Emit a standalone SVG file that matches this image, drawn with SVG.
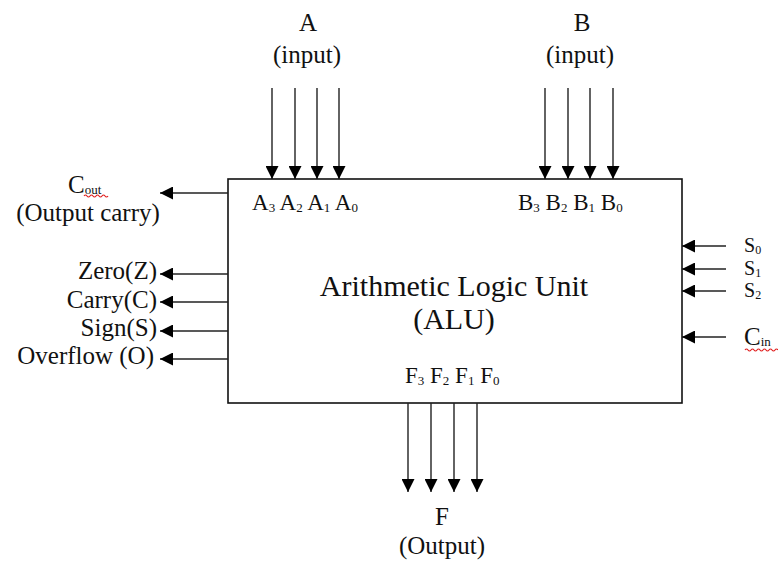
<svg xmlns="http://www.w3.org/2000/svg" width="778" height="563" viewBox="0 0 778 563">
<defs>
<marker id="ah" markerUnits="userSpaceOnUse" markerWidth="13" markerHeight="13" refX="13" refY="6.5" orient="auto">
<path d="M0,0 L13,6.5 L0,13 z" fill="#000"/>
</marker>
<style>
text{font-family:"Liberation Serif","Times New Roman",serif;fill:#111}
.lbl{font-size:25px}
.pin{font-size:23px}
.sub{font-size:13px}
.ssub{font-size:12px}
.sel{font-size:20px}
.title{font-size:30px}
.conn line{stroke:#222;stroke-width:1.4;marker-end:url(#ah)}
.sq{fill:none;stroke:#e02020;stroke-width:1.2}
</style>
</defs>
<rect width="778" height="563" fill="#fff"/>

<g id="alu">
<rect x="228" y="179" width="454" height="224" fill="#fff" stroke="#111" stroke-width="1.6"/>
<text class="title" x="454" y="296" text-anchor="middle">Arithmetic Logic Unit</text>
<text class="title" x="454" y="329" text-anchor="middle">(ALU)</text>
<text class="pin" x="252" y="210">A<tspan class="sub" dy="2">3</tspan><tspan dy="-2"> A</tspan><tspan class="sub" dy="2">2</tspan><tspan dy="-2"> A</tspan><tspan class="sub" dy="2">1</tspan><tspan dy="-2"> A</tspan><tspan class="sub" dy="2">0</tspan></text>
<text class="pin" x="518" y="210">B<tspan class="sub" dy="2">3</tspan><tspan dy="-2"> B</tspan><tspan class="sub" dy="2">2</tspan><tspan dy="-2"> B</tspan><tspan class="sub" dy="2">1</tspan><tspan dy="-2"> B</tspan><tspan class="sub" dy="2">0</tspan></text>
<text class="pin" x="405" y="383">F<tspan class="sub" dy="2">3</tspan><tspan dy="-2"> F</tspan><tspan class="sub" dy="2">2</tspan><tspan dy="-2"> F</tspan><tspan class="sub" dy="2">1</tspan><tspan dy="-2"> F</tspan><tspan class="sub" dy="2">0</tspan></text>
</g>

<g id="input-a">
<text class="lbl" x="308" y="31" text-anchor="middle">A</text>
<text class="lbl" x="307" y="63" text-anchor="middle">(input)</text>
</g>
<g id="input-b">
<text class="lbl" x="582" y="31" text-anchor="middle">B</text>
<text class="lbl" x="580" y="63" text-anchor="middle">(input)</text>
</g>
<g id="output-f">
<text class="lbl" x="442" y="525" text-anchor="middle">F</text>
<text class="lbl" x="442" y="554" text-anchor="middle">(Output)</text>
</g>
<g id="cout">
<text class="lbl" x="68" y="193">C<tspan class="sub" dy="1">out</tspan></text>
<path class="sq" d="M84,196 q1.5,-2 3,0 t3,0 t3,0 t3,0 t3,0 t3,0 t3,0 t3,0"/>
<text class="lbl" x="88" y="221" text-anchor="middle">(Output carry)</text>
</g>
<g id="flags">
<text class="lbl" x="157" y="279" text-anchor="end">Zero(Z)</text>
<text class="lbl" x="157" y="308" text-anchor="end">Carry(C)</text>
<text class="lbl" x="157" y="336" text-anchor="end">Sign(S)</text>
<text class="lbl" x="154" y="364" text-anchor="end">Overflow (O)</text>
</g>
<g id="select">
<text class="sel" x="744" y="252">S<tspan class="ssub" dy="2">0</tspan></text>
<text class="sel" x="744" y="275">S<tspan class="ssub" dy="2">1</tspan></text>
<text class="sel" x="744" y="297">S<tspan class="ssub" dy="2">2</tspan></text>
</g>
<g id="cin">
<text class="lbl" x="744" y="345">C<tspan class="sub" dy="1">in</tspan></text>
<path class="sq" d="M745,350 q1.5,-2 3,0 t3,0 t3,0 t3,0 t3,0 t3,0 t3,0 t3,0 t3,0 t3,0 t3,0"/>
</g>

<g id="connectors" class="conn">
<line x1="272" y1="88" x2="272" y2="179"/>
<line x1="295" y1="88" x2="295" y2="179"/>
<line x1="317" y1="88" x2="317" y2="179"/>
<line x1="339" y1="88" x2="339" y2="179"/>
<line x1="545" y1="88" x2="545" y2="179"/>
<line x1="568" y1="88" x2="568" y2="179"/>
<line x1="590" y1="88" x2="590" y2="179"/>
<line x1="613" y1="88" x2="613" y2="179"/>
<line x1="408" y1="403" x2="408" y2="492"/>
<line x1="431" y1="403" x2="431" y2="492"/>
<line x1="454" y1="403" x2="454" y2="492"/>
<line x1="477" y1="403" x2="477" y2="492"/>
<line x1="228" y1="193" x2="160" y2="193"/>
<line x1="228" y1="274" x2="160" y2="274"/>
<line x1="228" y1="302" x2="160" y2="302"/>
<line x1="228" y1="331" x2="160" y2="331"/>
<line x1="228" y1="359" x2="160" y2="359"/>
<line x1="726" y1="246" x2="682" y2="246"/>
<line x1="726" y1="269" x2="682" y2="269"/>
<line x1="726" y1="291" x2="682" y2="291"/>
<line x1="726" y1="337" x2="682" y2="337"/>
</g>
</svg>
